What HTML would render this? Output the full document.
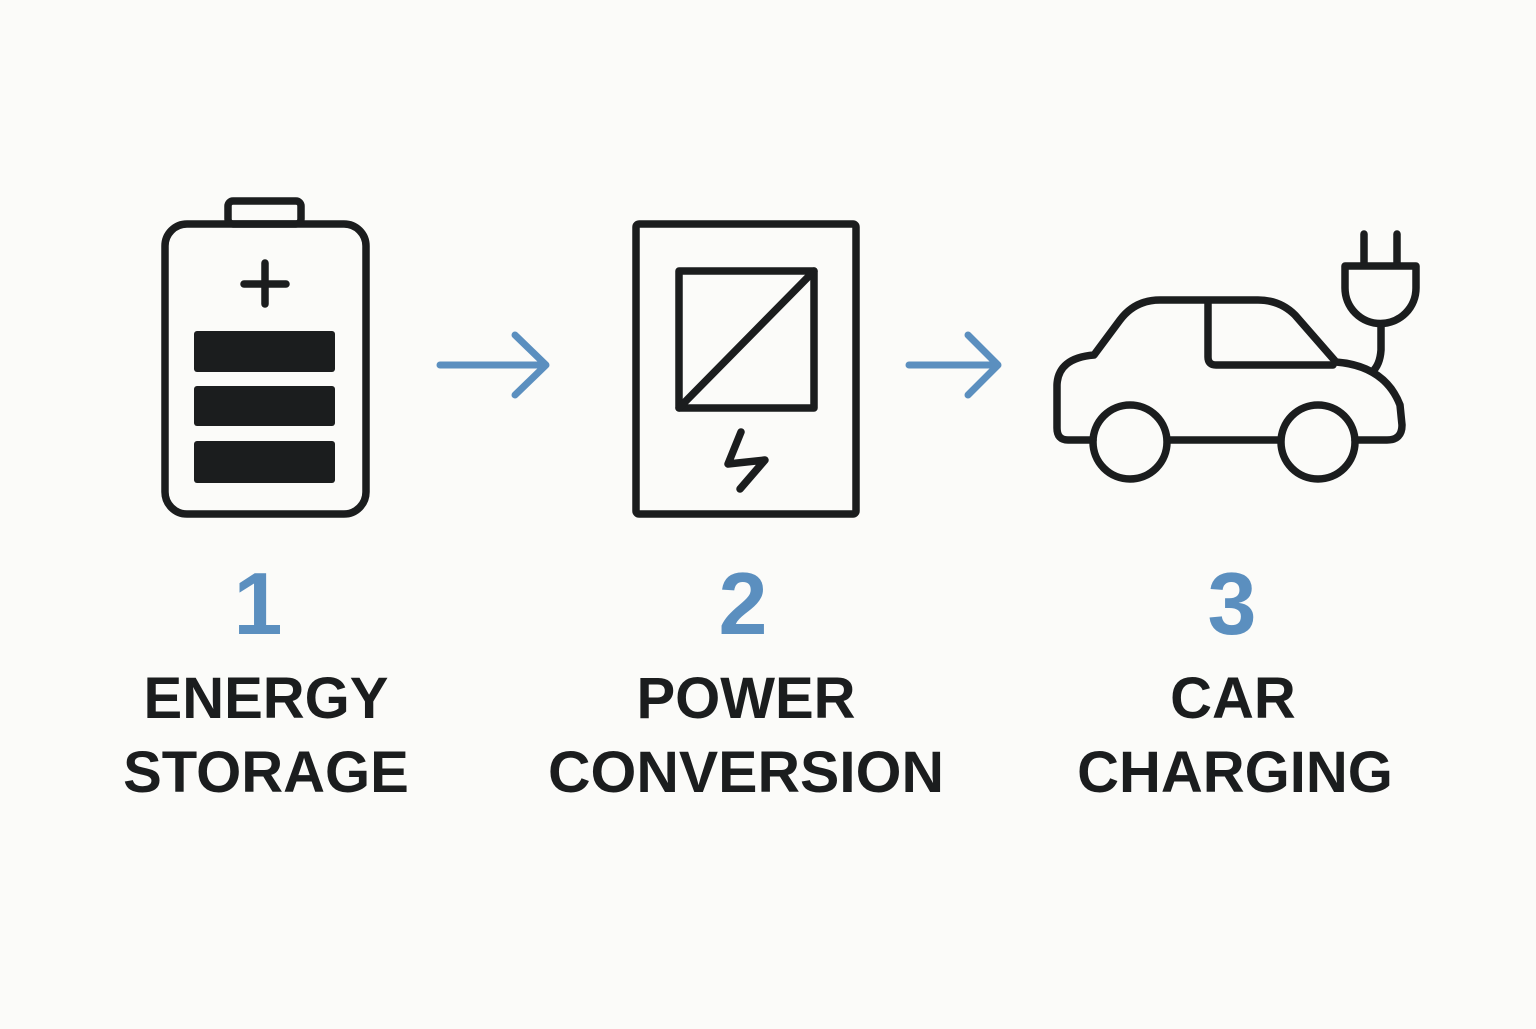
<!DOCTYPE html>
<html><head><style>
body{margin:0;background:#fbfbf9;}
.t{font-family:"Liberation Sans",sans-serif;font-weight:bold;}
</style></head><body>
<svg width="1536" height="1024" viewBox="0 0 1536 1024" xmlns="http://www.w3.org/2000/svg">
<rect width="1536" height="1024" fill="#fbfbf9"/>
<g fill="none" stroke="#1b1d1e" stroke-width="7.5" stroke-linecap="round" stroke-linejoin="round">
<!-- battery -->
<rect x="165" y="224" width="201" height="290" rx="22"/>
<rect x="228" y="201" width="73" height="23" rx="5"/>
<line x1="265" y1="263" x2="265" y2="304"/><line x1="244" y1="284" x2="286" y2="284"/>
<!-- converter -->
<rect x="636" y="224" width="220" height="290" rx="3"/>
<rect x="679" y="271" width="135" height="137"/>
<line x1="679" y1="408" x2="814" y2="271"/>
<polyline points="741,432 728,464 765,460 740,489"/>
<!-- car -->
<path d="M1093,440 L1068,440 Q1057,440 1057,428 L1057,385 Q1058,358 1094,355 L1120,320 Q1135,300 1160,300 L1258,300 Q1280,300 1295,315 L1336,362 Q1385,366 1400,405 L1402,425 Q1402,440 1387,440 L1355,440"/>
<path d="M1280,440 L1168,440"/>
<path d="M1208,302 L1208,357 Q1208,365 1216,365 L1333,365"/>
<circle cx="1130" cy="442" r="37"/>
<circle cx="1318" cy="442" r="37"/>
<line x1="1364" y1="234" x2="1364" y2="264"/><line x1="1397" y1="234" x2="1397" y2="264"/>
<path d="M1345,266 L1416,266 L1416,288 A35.5,35.5 0 0 1 1345,288 Z"/>
<path d="M1381,324 L1381,350 Q1380,365 1372,372"/>
</g>
<g fill="#1b1d1e">
<rect x="194" y="331" width="141" height="41" rx="3"/>
<rect x="194" y="386" width="141" height="40" rx="3"/>
<rect x="194" y="441" width="141" height="42" rx="3"/>
</g>
<g fill="none" stroke="#5b8fbf" stroke-width="7" stroke-linecap="round" stroke-linejoin="round">
<line x1="440" y1="365" x2="545" y2="365"/><polyline points="515,335 546,365 515,395"/>
<line x1="909" y1="365" x2="997" y2="365"/><polyline points="968,335 998,365 968,395"/>
</g>
<g class="t" text-anchor="middle">
<text x="258" y="634" font-size="88" fill="#5b8fbf">1</text>
<text x="743" y="634" font-size="88" fill="#5b8fbf">2</text>
<text x="1232" y="634" font-size="88" fill="#5b8fbf">3</text>
<g font-size="58" fill="#1b1d1e">
<text x="266" y="718">ENERGY</text>
<text x="266" y="792">STORAGE</text>
<text x="746" y="718">POWER</text>
<text x="746" y="792" textLength="396" lengthAdjust="spacingAndGlyphs">CONVERSION</text>
<text x="1233" y="718">CAR</text>
<text x="1235" y="792">CHARGING</text>
</g></g>
</svg>
</body></html>
